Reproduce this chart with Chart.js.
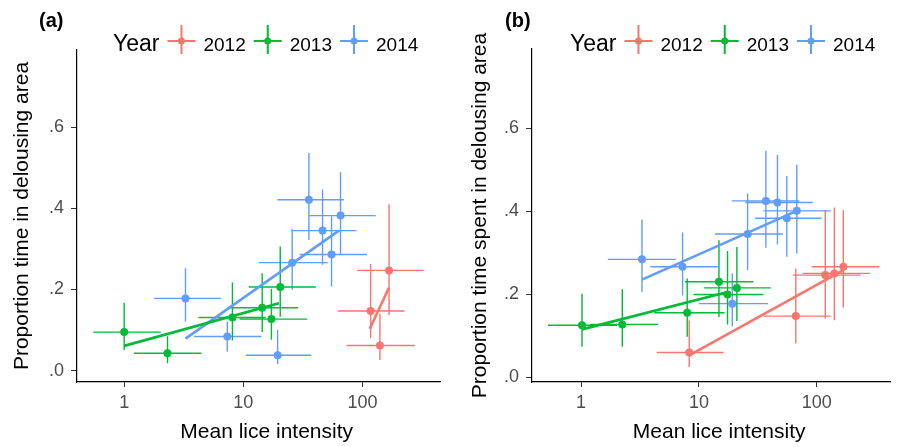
<!DOCTYPE html>
<html>
<head>
<meta charset="utf-8">
<script src="https://cdn.jsdelivr.net/npm/chart.js@4.4.1/dist/chart.umd.min.js"></script>
<style>
  body { margin: 0; background: #fff; }
  #wrap { position: relative; width: 901px; height: 447px; overflow: hidden; }
  #chartA { position: absolute; left: 0; top: 0; }
  #chartB { position: absolute; left: 450px; top: 0; }
</style>
</head>
<body>
<div id="wrap">
  <canvas id="chartA" width="450" height="447"></canvas>
  <canvas id="chartB" width="451" height="447"></canvas>
</div>
<script>
const years = ['2012', '2013', '2014'];
const colors = ['#F8766D', '#00BA38', '#619CFF'];
const xTicks = [1, 10, 100];
const yTicks = [0, 0.2, 0.4, 0.6];

// rows: [mean lice intensity, proportion, x low, x high, y low, y high]
const a2012 = [
  [117, 0.147, 62, 225, 0.080, 0.263],
  [140, 0.062, 73.5, 275, 0.026, 0.140],
  [167, 0.247, 90, 326, 0.137, 0.410]
];
const a2013 = [
  [1.0, 0.095, 0.55, 2.03, 0.051, 0.167],
  [2.31, 0.043, 1.21, 4.45, 0.018, 0.085],
  [8.1, 0.131, 4.2, 15.4, 0.074, 0.217],
  [14.4, 0.155, 7.8, 28.7, 0.095, 0.240],
  [17.2, 0.127, 9.3, 34.4, 0.076, 0.201],
  [20.4, 0.206, 11.1, 40.6, 0.133, 0.306]
];
const a2014 = [
  [3.27, 0.178, 1.78, 6.5, 0.121, 0.252],
  [7.34, 0.084, 3.86, 14.2, 0.047, 0.121],
  [19.4, 0.038, 10.5, 37.2, 0.016, 0.100],
  [25.7, 0.266, 13.5, 51.2, 0.199, 0.349],
  [35.5, 0.421, 19.3, 69.8, 0.322, 0.536],
  [46.2, 0.345, 25.2, 89, 0.261, 0.446],
  [55, 0.286, 29.6, 109, 0.207, 0.380],
  [65.4, 0.382, 35.5, 129, 0.288, 0.489]
];
// fitted lines: [x, y] end points
const aFit2012 = [[115, 0.103], [167, 0.205]];
const aFit2013 = [[1.0, 0.061], [19.9, 0.166]];
const aFit2014 = [[3.27, 0.079], [63.4, 0.345]];

const b2012 = [
  [8.28, 0.059, 4.4, 16.2, 0.024, 0.137],
  [66.4, 0.147, 35.3, 131, 0.081, 0.262],
  [118, 0.246, 62.6, 236, 0.141, 0.403],
  [141, 0.250, 76, 283, 0.137, 0.409],
  [168, 0.266, 90.7, 340, 0.168, 0.403]
];
const b2013 = [
  [1.02, 0.125, 0.525, 2.02, 0.073, 0.201],
  [2.24, 0.127, 1.2, 4.5, 0.073, 0.212],
  [7.96, 0.155, 4.18, 16.5, 0.097, 0.238],
  [14.8, 0.230, 7.6, 29, 0.145, 0.330],
  [17.5, 0.199, 9.0, 35.3, 0.127, 0.304],
  [21, 0.215, 11, 40.7, 0.135, 0.314]
];
const b2014 = [
  [3.29, 0.284, 1.69, 6.38, 0.205, 0.380],
  [7.27, 0.266, 3.87, 14.5, 0.197, 0.349],
  [19.2, 0.177, 10, 38.5, 0.122, 0.250],
  [25.9, 0.345, 13.7, 51.5, 0.258, 0.443],
  [37, 0.425, 19, 71.3, 0.312, 0.546],
  [46.4, 0.421, 24.7, 92.5, 0.320, 0.536],
  [55.7, 0.383, 30, 110, 0.290, 0.485],
  [67.7, 0.401, 35.3, 131, 0.298, 0.512]
];
const bFit2012 = [[8.28, 0.052], [168, 0.258]];
const bFit2013 = [[1.02, 0.115], [17.5, 0.205]];
const bFit2014 = [[3.29, 0.235], [67.7, 0.401]];

const FONT = '"Liberation Sans", Arial, Helvetica, sans-serif';

// legend + panel tag drawn on the canvas
const yearLegend = {
  id: 'yearLegend',
  afterDraw(chart, args, opts) {
    const ctx = chart.ctx;
    ctx.save();
    ctx.textBaseline = 'alphabetic';
    ctx.fillStyle = '#000';
    ctx.font = 'bold 20px ' + FONT;
    ctx.fillText(opts.tag, opts.tagX, 26.5);

    ctx.font = '23px ' + FONT;
    ctx.fillText('Year', opts.x, 51);
    let x = opts.x + ctx.measureText('Year').width + 8;
    const cy = 41;
    years.forEach((yr, i) => {
      ctx.strokeStyle = colors[i];
      ctx.fillStyle = colors[i];
      ctx.lineWidth = 2;
      ctx.beginPath();
      ctx.moveTo(x, cy); ctx.lineTo(x + 28, cy);
      ctx.moveTo(x + 14, cy - 16); ctx.lineTo(x + 14, cy + 13);
      ctx.stroke();
      ctx.beginPath();
      ctx.arc(x + 14, cy, 3.5, 0, Math.PI * 2);
      ctx.fill();
      ctx.fillStyle = '#000';
      ctx.font = '19px ' + FONT;
      ctx.fillText(yr, x + 36, 50.5);
      x += 36 + ctx.measureText(yr).width + 8;
    });
    ctx.restore();
  }
};

function makeChart(id, series, fits, cfg) {
  const datasets = [];
  series.forEach((rows, i) => {
    const bars = [];
    rows.forEach(r => {
      bars.push({x: r[2], y: r[1]}, {x: r[3], y: r[1]}, {x: r[3], y: null});
      bars.push({x: r[0], y: r[4]}, {x: r[0], y: r[5]}, {x: r[0], y: null});
    });
    datasets.push({
      data: bars, showLine: true, spanGaps: false,
      borderColor: colors[i], borderWidth: 1.4, pointRadius: 0, order: 3
    });
  });
  fits.forEach((f, i) => {
    datasets.push({
      data: f.map(p => ({x: p[0], y: p[1]})), showLine: true,
      borderColor: colors[i], borderWidth: 2.6, pointRadius: 0, order: 2
    });
  });
  series.forEach((rows, i) => {
    datasets.push({
      label: years[i],
      data: rows.map(r => ({x: r[0], y: r[1]})),
      backgroundColor: colors[i], borderWidth: 0, pointRadius: 4, order: 1
    });
  });

  return new Chart(document.getElementById(id), {
    type: 'scatter',
    data: { datasets },
    plugins: [yearLegend],
    options: {
      responsive: false,
      animation: false,
      events: [],
      layout: { padding: { top: cfg.top, right: cfg.right, left: 0, bottom: 0 } },
      plugins: {
        legend: { display: false },
        tooltip: { enabled: false },
        yearLegend: { tag: cfg.tag, tagX: cfg.tagX, x: cfg.legendX }
      },
      scales: {
        x: {
          type: 'logarithmic',
          min: cfg.xMin, max: cfg.xMax,
          afterBuildTicks: s => { s.ticks = xTicks.map(v => ({value: v})); },
          afterFit: s => { s.height = 65; },
          border: { display: true, color: '#000', width: 1.2 },
          grid: { display: true, drawOnChartArea: false, drawTicks: true, tickLength: 5, color: '#333' },
          ticks: {
            autoSkip: false, maxRotation: 0, padding: 5,
            color: '#4d4d4d', font: { family: FONT, size: 18 },
            callback: v => String(v)
          },
          title: {
            // leading spaces nudge the centred title right, as in the original
            display: true, text: '\u2002 Mean lice intensity', color: '#000',
            font: { family: FONT, size: 21 }, padding: { top: 0, bottom: 2 }
          }
        },
        y: {
          min: cfg.yMin, max: cfg.yMax,
          afterBuildTicks: s => { s.ticks = yTicks.map(v => ({value: v})); },
          afterFit: s => { s.width = cfg.yWidth; },
          border: { display: true, color: '#000', width: 1.2 },
          grid: { display: true, drawOnChartArea: false, drawTicks: true, tickLength: 6, color: '#333' },
          ticks: {
            padding: 7, color: '#4d4d4d', font: { family: FONT, size: 18 },
            callback: v => v.toFixed(1).replace('0.', '.')
          },
          title: {
            display: true, text: cfg.yTitle, color: '#000',
            font: { family: FONT, size: 21 }, padding: { top: cfg.yTitlePad, bottom: 0 }
          }
        }
      }
    }
  });
}

makeChart('chartA', [a2012, a2013, a2014], [aFit2012, aFit2013, aFit2014], {
  top: 50, right: 10, yWidth: 77, yTitlePad: 10,
  xMin: 0.402, xMax: 447, yMin: -0.028, yMax: 0.79,
  yTitle: 'Proportion time in delousing area',
  tag: '(a)', tagX: 39, legendX: 113
});

makeChart('chartB', [b2012, b2013, b2014], [bFit2012, bFit2013, bFit2014], {
  top: 49, right: 11, yWidth: 82, yTitlePad: 18,
  xMin: 0.384, xMax: 418, yMin: -0.012, yMax: 0.7915,
  yTitle: 'Proportion time spent in delousing area',
  tag: '(b)', tagX: 55, legendX: 120
});
</script>
</body>
</html>
